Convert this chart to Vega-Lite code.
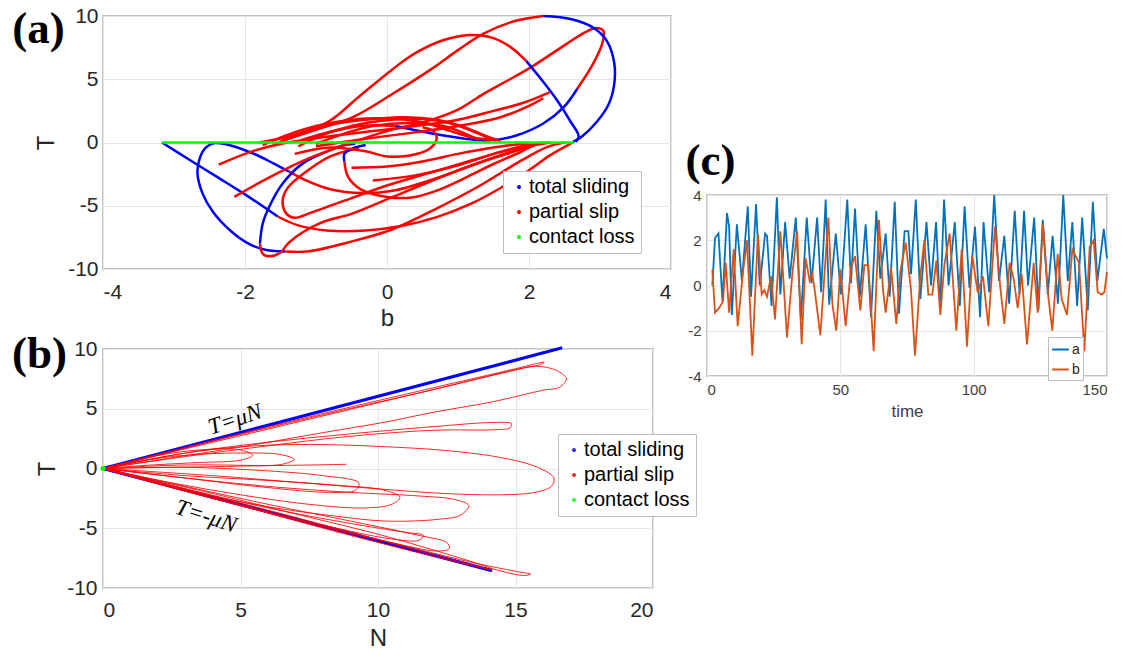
{
  "$schema": "https://vega.github.io/schema/vega-lite/v6.json",
  "autosize": {"type": "pad"},
  "padding": {"left": 10, "top": 4, "right": 0, "bottom": 0},
  "background": "white",
  "config": {
    "font": "Liberation Sans",
    "locale": {"number": {"decimal": ".", "thousands": ",", "grouping": [3], "currency": ["$", ""], "minus": "-"}},
    "view": {"stroke": "#c4c4c4", "strokeWidth": 2},
    "axis": {"grid": true, "gridColor": "#e6e6e6", "gridWidth": 1, "domain": false, "ticks": false, "format": "d", "labelFont": "Liberation Sans", "titleFont": "Liberation Sans", "labelColor": "#262626", "titleColor": "#262626", "titleFontWeight": "normal"}
  },
  "datasets": {
    "panelA": [
      {"seg": "a1", "state": "total sliding", "b": -3.17, "T": 0},
      {"seg": "a1", "state": "total sliding", "b": -2.8, "T": -1.3},
      {"seg": "a1", "state": "total sliding", "b": -2.4, "T": -2.7},
      {"seg": "a1", "state": "total sliding", "b": -2.0, "T": -4.1},
      {"seg": "a1", "state": "total sliding", "b": -1.54, "T": -5.85},
      {"seg": "a2", "state": "partial slip", "b": -1.54, "T": -5.85},
      {"seg": "a2", "state": "partial slip", "b": -1.25, "T": -6.55},
      {"seg": "a2", "state": "partial slip", "b": -0.85, "T": -6.95},
      {"seg": "a2", "state": "partial slip", "b": -0.3, "T": -6.95},
      {"seg": "a2", "state": "partial slip", "b": 0.2, "T": -6.6},
      {"seg": "a2", "state": "partial slip", "b": 0.7, "T": -5.9},
      {"seg": "a2", "state": "partial slip", "b": 1.2, "T": -4.8},
      {"seg": "a2", "state": "partial slip", "b": 1.6, "T": -3.6},
      {"seg": "a2", "state": "partial slip", "b": 2.0, "T": -2.2},
      {"seg": "a2", "state": "partial slip", "b": 2.3, "T": -1.0},
      {"seg": "a2", "state": "partial slip", "b": 2.55, "T": -0.2},
      {"seg": "a2", "state": "partial slip", "b": 2.62, "T": 0},
      {"seg": "a3", "state": "total sliding", "b": -1.38, "T": -2.3},
      {"seg": "a3", "state": "total sliding", "b": -1.6, "T": -1.65},
      {"seg": "a3", "state": "total sliding", "b": -1.85, "T": -0.95},
      {"seg": "a3", "state": "total sliding", "b": -2.13, "T": -0.35},
      {"seg": "a3", "state": "total sliding", "b": -2.42, "T": -0.05},
      {"seg": "a3", "state": "total sliding", "b": -2.56, "T": -0.45},
      {"seg": "a3", "state": "total sliding", "b": -2.64, "T": -1.3},
      {"seg": "a3", "state": "total sliding", "b": -2.67, "T": -2.4},
      {"seg": "a3", "state": "total sliding", "b": -2.6, "T": -4.0},
      {"seg": "a3", "state": "total sliding", "b": -2.45, "T": -5.5},
      {"seg": "a3", "state": "total sliding", "b": -2.2, "T": -7.0},
      {"seg": "a3", "state": "total sliding", "b": -1.95, "T": -8.0},
      {"seg": "a3", "state": "total sliding", "b": -1.7, "T": -8.5},
      {"seg": "a3", "state": "total sliding", "b": -1.43, "T": -8.62},
      {"seg": "a4", "state": "partial slip", "b": -1.38, "T": -2.3},
      {"seg": "a4", "state": "partial slip", "b": -1.1, "T": -3.1},
      {"seg": "a4", "state": "partial slip", "b": -0.8, "T": -3.7},
      {"seg": "a4", "state": "partial slip", "b": -0.35, "T": -4.0},
      {"seg": "a4", "state": "partial slip", "b": 0.1, "T": -3.8},
      {"seg": "a4", "state": "partial slip", "b": 0.6, "T": -3.0},
      {"seg": "a4", "state": "partial slip", "b": 1.1, "T": -2.0},
      {"seg": "a4", "state": "partial slip", "b": 1.6, "T": -1.0},
      {"seg": "a4", "state": "partial slip", "b": 2.0, "T": -0.3},
      {"seg": "a4", "state": "partial slip", "b": 2.3, "T": 0},
      {"seg": "a5", "state": "partial slip", "b": -1.43, "T": -8.62},
      {"seg": "a5", "state": "partial slip", "b": -1.1, "T": -8.6},
      {"seg": "a5", "state": "partial slip", "b": -0.55, "T": -7.9},
      {"seg": "a5", "state": "partial slip", "b": 0.06, "T": -6.9},
      {"seg": "a5", "state": "partial slip", "b": 0.67, "T": -5.3},
      {"seg": "a5", "state": "partial slip", "b": 1.28, "T": -3.5},
      {"seg": "a5", "state": "partial slip", "b": 1.9, "T": -1.4},
      {"seg": "a5", "state": "partial slip", "b": 2.26, "T": -0.35},
      {"seg": "a5", "state": "partial slip", "b": 2.5, "T": 0},
      {"seg": "a6", "state": "total sliding", "b": -0.45, "T": -0.1},
      {"seg": "a6", "state": "total sliding", "b": -0.62, "T": -0.24},
      {"seg": "a6", "state": "total sliding", "b": -0.81, "T": -0.63},
      {"seg": "a6", "state": "total sliding", "b": -1.19, "T": -1.67},
      {"seg": "a6", "state": "total sliding", "b": -1.47, "T": -3.25},
      {"seg": "a6", "state": "total sliding", "b": -1.66, "T": -5.1},
      {"seg": "a6", "state": "total sliding", "b": -1.75, "T": -6.4},
      {"seg": "a6", "state": "total sliding", "b": -1.79, "T": -8.0},
      {"seg": "a7", "state": "partial slip", "b": -1.79, "T": -8.0},
      {"seg": "a7", "state": "partial slip", "b": -1.75, "T": -8.8},
      {"seg": "a7", "state": "partial slip", "b": -1.65, "T": -9.0},
      {"seg": "a7", "state": "partial slip", "b": -1.5, "T": -8.7},
      {"seg": "a7", "state": "partial slip", "b": -1.38, "T": -7.9},
      {"seg": "a7", "state": "partial slip", "b": -0.95, "T": -6.4},
      {"seg": "a7", "state": "partial slip", "b": -0.48, "T": -5.6},
      {"seg": "a7", "state": "partial slip", "b": 0.08, "T": -4.3},
      {"seg": "a7", "state": "partial slip", "b": 0.6, "T": -3.1},
      {"seg": "a7", "state": "partial slip", "b": 1.2, "T": -1.8},
      {"seg": "a7", "state": "partial slip", "b": 1.8, "T": -0.7},
      {"seg": "a7", "state": "partial slip", "b": 2.2, "T": 0},
      {"seg": "a8", "state": "partial slip", "b": -0.4, "T": -0.45},
      {"seg": "a8", "state": "partial slip", "b": -0.8, "T": -1.1},
      {"seg": "a8", "state": "partial slip", "b": -1.16, "T": -2.4},
      {"seg": "a8", "state": "partial slip", "b": -1.4, "T": -3.6},
      {"seg": "a8", "state": "partial slip", "b": -1.47, "T": -4.6},
      {"seg": "a8", "state": "partial slip", "b": -1.42, "T": -5.6},
      {"seg": "a8", "state": "partial slip", "b": -1.3, "T": -5.95},
      {"seg": "a8", "state": "partial slip", "b": -1.05, "T": -5.5},
      {"seg": "a8", "state": "partial slip", "b": -0.6, "T": -4.6},
      {"seg": "a8", "state": "partial slip", "b": 0.0, "T": -3.4},
      {"seg": "a8", "state": "partial slip", "b": 0.6, "T": -2.4},
      {"seg": "a8", "state": "partial slip", "b": 1.2, "T": -1.4},
      {"seg": "a8", "state": "partial slip", "b": 1.7, "T": -0.6},
      {"seg": "a8", "state": "partial slip", "b": 2.0, "T": -0.2},
      {"seg": "a9", "state": "total sliding", "b": -0.3, "T": -0.2},
      {"seg": "a9", "state": "total sliding", "b": -0.5, "T": -0.5},
      {"seg": "a9", "state": "total sliding", "b": -0.6, "T": -0.9},
      {"seg": "a9", "state": "total sliding", "b": -0.6, "T": -1.5},
      {"seg": "a10", "state": "partial slip", "b": -0.6, "T": -1.5},
      {"seg": "a10", "state": "partial slip", "b": -0.55, "T": -2.7},
      {"seg": "a10", "state": "partial slip", "b": -0.37, "T": -3.7},
      {"seg": "a10", "state": "partial slip", "b": 0.0, "T": -4.3},
      {"seg": "a10", "state": "partial slip", "b": 0.35, "T": -4.35},
      {"seg": "a10", "state": "partial slip", "b": 0.7, "T": -3.8},
      {"seg": "a10", "state": "partial slip", "b": 1.1, "T": -2.8},
      {"seg": "a10", "state": "partial slip", "b": 1.5, "T": -1.7},
      {"seg": "a10", "state": "partial slip", "b": 1.9, "T": -0.7},
      {"seg": "a10", "state": "partial slip", "b": 2.1, "T": -0.1},
      {"seg": "a11", "state": "partial slip", "b": -2.15, "T": -4.3},
      {"seg": "a11", "state": "partial slip", "b": -1.77, "T": -3.1},
      {"seg": "a11", "state": "partial slip", "b": -1.16, "T": -1.4},
      {"seg": "a11", "state": "partial slip", "b": -0.55, "T": -0.1},
      {"seg": "a11", "state": "partial slip", "b": 0.06, "T": 1.0},
      {"seg": "a11", "state": "partial slip", "b": 0.6, "T": 1.75},
      {"seg": "a11", "state": "partial slip", "b": 1.0, "T": 2.6},
      {"seg": "a11", "state": "partial slip", "b": 1.36, "T": 3.85},
      {"seg": "a11", "state": "partial slip", "b": 1.7, "T": 4.9},
      {"seg": "a11", "state": "partial slip", "b": 2.06, "T": 6.06},
      {"seg": "a11", "state": "partial slip", "b": 2.53, "T": 7.8},
      {"seg": "a11", "state": "partial slip", "b": 2.8, "T": 8.75},
      {"seg": "a11", "state": "partial slip", "b": 2.95, "T": 9.05},
      {"seg": "a11", "state": "partial slip", "b": 3.05, "T": 8.8},
      {"seg": "a11", "state": "partial slip", "b": 3.03, "T": 7.8},
      {"seg": "a11", "state": "partial slip", "b": 2.9, "T": 6.2},
      {"seg": "a11", "state": "partial slip", "b": 2.68, "T": 4.25},
      {"seg": "a12", "state": "total sliding", "b": 2.68, "T": 4.25},
      {"seg": "a12", "state": "total sliding", "b": 2.49, "T": 2.8},
      {"seg": "a12", "state": "total sliding", "b": 2.2, "T": 1.5},
      {"seg": "a12", "state": "total sliding", "b": 1.82, "T": 0.55},
      {"seg": "a12", "state": "total sliding", "b": 1.45, "T": 0.15},
      {"seg": "a12", "state": "total sliding", "b": 1.1, "T": 0.3},
      {"seg": "a12", "state": "total sliding", "b": 0.6, "T": 0.75},
      {"seg": "a12", "state": "total sliding", "b": 0.12, "T": 1.3},
      {"seg": "a13", "state": "partial slip", "b": 0.12, "T": 1.3},
      {"seg": "a13", "state": "partial slip", "b": -0.3, "T": 1.35},
      {"seg": "a13", "state": "partial slip", "b": -0.8, "T": 0.85},
      {"seg": "a13", "state": "partial slip", "b": -1.2, "T": 0.2},
      {"seg": "a14", "state": "partial slip", "b": -1.8, "T": 0},
      {"seg": "a14", "state": "partial slip", "b": -1.3, "T": 0.6},
      {"seg": "a14", "state": "partial slip", "b": -0.81, "T": 1.7},
      {"seg": "a14", "state": "partial slip", "b": -0.4, "T": 3.6},
      {"seg": "a14", "state": "partial slip", "b": 0.08, "T": 5.8},
      {"seg": "a14", "state": "partial slip", "b": 0.41, "T": 7.1},
      {"seg": "a14", "state": "partial slip", "b": 0.8, "T": 8.1},
      {"seg": "a14", "state": "partial slip", "b": 1.17, "T": 8.5},
      {"seg": "a14", "state": "partial slip", "b": 1.5, "T": 8.25},
      {"seg": "a14", "state": "partial slip", "b": 1.75, "T": 7.5},
      {"seg": "a14", "state": "partial slip", "b": 1.96, "T": 6.45},
      {"seg": "a15", "state": "total sliding", "b": 1.96, "T": 6.45},
      {"seg": "a15", "state": "total sliding", "b": 2.2, "T": 4.8},
      {"seg": "a15", "state": "total sliding", "b": 2.4, "T": 3.3},
      {"seg": "a15", "state": "total sliding", "b": 2.58, "T": 1.7},
      {"seg": "a15", "state": "total sliding", "b": 2.7, "T": 0.5},
      {"seg": "a15", "state": "total sliding", "b": 2.66, "T": 0.05},
      {"seg": "a16", "state": "partial slip", "b": -1.5, "T": 0.1},
      {"seg": "a16", "state": "partial slip", "b": -1.0, "T": 1.0},
      {"seg": "a16", "state": "partial slip", "b": -0.48, "T": 2.0},
      {"seg": "a16", "state": "partial slip", "b": 0.08, "T": 3.85},
      {"seg": "a16", "state": "partial slip", "b": 0.65, "T": 5.9},
      {"seg": "a16", "state": "partial slip", "b": 1.0, "T": 7.3},
      {"seg": "a16", "state": "partial slip", "b": 1.36, "T": 8.6},
      {"seg": "a16", "state": "partial slip", "b": 1.8, "T": 9.6},
      {"seg": "a16", "state": "partial slip", "b": 2.2, "T": 10.0},
      {"seg": "a17", "state": "total sliding", "b": 2.2, "T": 10.0},
      {"seg": "a17", "state": "total sliding", "b": 2.6, "T": 9.75},
      {"seg": "a17", "state": "total sliding", "b": 2.9, "T": 9.1},
      {"seg": "a17", "state": "total sliding", "b": 3.1, "T": 8.0},
      {"seg": "a17", "state": "total sliding", "b": 3.2, "T": 6.3},
      {"seg": "a17", "state": "total sliding", "b": 3.2, "T": 4.6},
      {"seg": "a17", "state": "total sliding", "b": 3.12, "T": 3.0},
      {"seg": "a17", "state": "total sliding", "b": 2.95, "T": 1.6},
      {"seg": "a17", "state": "total sliding", "b": 2.75, "T": 0.5},
      {"seg": "a17", "state": "total sliding", "b": 2.62, "T": 0.05},
      {"seg": "a18", "state": "partial slip", "b": -2.37, "T": -1.75},
      {"seg": "a18", "state": "partial slip", "b": -1.9, "T": -0.7},
      {"seg": "a18", "state": "partial slip", "b": -1.4, "T": 0.0},
      {"seg": "a18", "state": "partial slip", "b": -0.8, "T": 0.5},
      {"seg": "a18", "state": "partial slip", "b": -0.2, "T": 0.9},
      {"seg": "a18", "state": "partial slip", "b": 0.4, "T": 1.3},
      {"seg": "a18", "state": "partial slip", "b": 1.0, "T": 1.8},
      {"seg": "a18", "state": "partial slip", "b": 1.5, "T": 2.5},
      {"seg": "a18", "state": "partial slip", "b": 1.9, "T": 3.1},
      {"seg": "a18", "state": "partial slip", "b": 2.29, "T": 3.97},
      {"seg": "a19", "state": "partial slip", "b": -1.0, "T": -0.3},
      {"seg": "a19", "state": "partial slip", "b": -0.3, "T": 0.3},
      {"seg": "a19", "state": "partial slip", "b": 0.4, "T": 0.8},
      {"seg": "a19", "state": "partial slip", "b": 1.0, "T": 1.3},
      {"seg": "a19", "state": "partial slip", "b": 1.6, "T": 2.0},
      {"seg": "a19", "state": "partial slip", "b": 2.0, "T": 2.9},
      {"seg": "a19", "state": "partial slip", "b": 2.2, "T": 3.5},
      {"seg": "a20", "state": "partial slip", "b": -1.6, "T": -0.2},
      {"seg": "a20", "state": "partial slip", "b": -1.2, "T": 0.7},
      {"seg": "a20", "state": "partial slip", "b": -0.8, "T": 1.4},
      {"seg": "a20", "state": "partial slip", "b": -0.3, "T": 1.8},
      {"seg": "a20", "state": "partial slip", "b": 0.2, "T": 2.0},
      {"seg": "a20", "state": "partial slip", "b": 0.7, "T": 1.8},
      {"seg": "a20", "state": "partial slip", "b": 1.1, "T": 1.2},
      {"seg": "a20", "state": "partial slip", "b": 1.4, "T": 0.5},
      {"seg": "a20", "state": "partial slip", "b": 1.6, "T": 0.1},
      {"seg": "a21", "state": "partial slip", "b": -1.25, "T": -0.3},
      {"seg": "a21", "state": "partial slip", "b": -0.9, "T": 0.6},
      {"seg": "a21", "state": "partial slip", "b": -0.5, "T": 1.3},
      {"seg": "a21", "state": "partial slip", "b": 0.0, "T": 1.75},
      {"seg": "a21", "state": "partial slip", "b": 0.5, "T": 1.85},
      {"seg": "a21", "state": "partial slip", "b": 0.9, "T": 1.5},
      {"seg": "a21", "state": "partial slip", "b": 1.2, "T": 0.9},
      {"seg": "a21", "state": "partial slip", "b": 1.45, "T": 0.3},
      {"seg": "a22", "state": "partial slip", "b": -1.0, "T": -0.1},
      {"seg": "a22", "state": "partial slip", "b": -0.6, "T": 0.7},
      {"seg": "a22", "state": "partial slip", "b": -0.2, "T": 1.3},
      {"seg": "a22", "state": "partial slip", "b": 0.3, "T": 1.55},
      {"seg": "a22", "state": "partial slip", "b": 0.8, "T": 1.3},
      {"seg": "a22", "state": "partial slip", "b": 1.1, "T": 0.7},
      {"seg": "a22", "state": "partial slip", "b": 1.3, "T": 0.2},
      {"seg": "a23", "state": "partial slip", "b": -1.75, "T": -0.2},
      {"seg": "a23", "state": "partial slip", "b": -1.4, "T": 0.6},
      {"seg": "a23", "state": "partial slip", "b": -1.0, "T": 1.3},
      {"seg": "a23", "state": "partial slip", "b": -0.5, "T": 1.8},
      {"seg": "a23", "state": "partial slip", "b": 0.0, "T": 1.9},
      {"seg": "a23", "state": "partial slip", "b": 0.5, "T": 1.6},
      {"seg": "a23", "state": "partial slip", "b": 0.9, "T": 0.9},
      {"seg": "a23", "state": "partial slip", "b": 1.2, "T": 0.4},
      {"seg": "a23", "state": "partial slip", "b": 1.5, "T": 0.2},
      {"seg": "a24", "state": "partial slip", "b": -1.3, "T": -0.9},
      {"seg": "a24", "state": "partial slip", "b": -0.8, "T": -0.4},
      {"seg": "a24", "state": "partial slip", "b": -0.3, "T": -0.7},
      {"seg": "a24", "state": "partial slip", "b": 0.0, "T": -1.1},
      {"seg": "a24", "state": "partial slip", "b": 0.3, "T": -1.05},
      {"seg": "a24", "state": "partial slip", "b": 0.6, "T": -0.5},
      {"seg": "a24", "state": "partial slip", "b": 0.7, "T": 0.3},
      {"seg": "a24", "state": "partial slip", "b": 0.65, "T": 0.9},
      {"seg": "a24", "state": "partial slip", "b": 0.5, "T": 1.2},
      {"seg": "a25", "state": "partial slip", "b": -0.5, "T": -2.0},
      {"seg": "a25", "state": "partial slip", "b": 0.0, "T": -1.9},
      {"seg": "a25", "state": "partial slip", "b": 0.5, "T": -1.5},
      {"seg": "a25", "state": "partial slip", "b": 1.0, "T": -0.9},
      {"seg": "a25", "state": "partial slip", "b": 1.5, "T": -0.4},
      {"seg": "a25", "state": "partial slip", "b": 2.0, "T": -0.05},
      {"seg": "a26", "state": "partial slip", "b": -0.2, "T": -3.0},
      {"seg": "a26", "state": "partial slip", "b": 0.4, "T": -2.6},
      {"seg": "a26", "state": "partial slip", "b": 1.0, "T": -1.8},
      {"seg": "a26", "state": "partial slip", "b": 1.5, "T": -0.9},
      {"seg": "a26", "state": "partial slip", "b": 2.0, "T": -0.2},
      {"seg": "a26", "state": "partial slip", "b": 2.3, "T": 0},
      {"seg": "a27", "state": "contact loss", "b": -3.17, "T": 0},
      {"seg": "a27", "state": "contact loss", "b": 2.63, "T": 0}
    ],
    "panelB": [
      {"seg": "bu", "state": "total sliding", "N": 0, "T": 0},
      {"seg": "bu", "state": "total sliding", "N": 16.7, "T": 10.1},
      {"seg": "bd", "state": "total sliding", "N": 0, "T": 0},
      {"seg": "bd", "state": "total sliding", "N": 14.15, "T": -8.55},
      {"seg": "r1", "state": "partial slip", "N": 0, "T": 0},
      {"seg": "r1", "state": "partial slip", "N": 4, "T": 2.35},
      {"seg": "r1", "state": "partial slip", "N": 8, "T": 4.6},
      {"seg": "r1", "state": "partial slip", "N": 12, "T": 6.75},
      {"seg": "r1", "state": "partial slip", "N": 15, "T": 8.35},
      {"seg": "r1", "state": "partial slip", "N": 15.8, "T": 8.8},
      {"seg": "r1", "state": "partial slip", "N": 16.05, "T": 8.9},
      {"seg": "r1", "state": "partial slip", "N": 15.9, "T": 8.7},
      {"seg": "r1", "state": "partial slip", "N": 15.2, "T": 8.35},
      {"seg": "r1", "state": "partial slip", "N": 12, "T": 6.6},
      {"seg": "r1", "state": "partial slip", "N": 8, "T": 4.4},
      {"seg": "r1", "state": "partial slip", "N": 4, "T": 2.2},
      {"seg": "r1", "state": "partial slip", "N": 0, "T": 0},
      {"seg": "r2", "state": "partial slip", "N": 0, "T": 0},
      {"seg": "r2", "state": "partial slip", "N": 4, "T": 2.3},
      {"seg": "r2", "state": "partial slip", "N": 8, "T": 4.5},
      {"seg": "r2", "state": "partial slip", "N": 12, "T": 6.6},
      {"seg": "r2", "state": "partial slip", "N": 14.5, "T": 8.0},
      {"seg": "r2", "state": "partial slip", "N": 15.75, "T": 8.55},
      {"seg": "r2", "state": "partial slip", "N": 16.5, "T": 8.2},
      {"seg": "r2", "state": "partial slip", "N": 16.85, "T": 7.5},
      {"seg": "r2", "state": "partial slip", "N": 16.6, "T": 6.8},
      {"seg": "r2", "state": "partial slip", "N": 16.0, "T": 6.55},
      {"seg": "r2", "state": "partial slip", "N": 14.2, "T": 5.6},
      {"seg": "r2", "state": "partial slip", "N": 12, "T": 4.7},
      {"seg": "r2", "state": "partial slip", "N": 10.3, "T": 3.9},
      {"seg": "r2", "state": "partial slip", "N": 8, "T": 3.0},
      {"seg": "r2", "state": "partial slip", "N": 5, "T": 1.8},
      {"seg": "r2", "state": "partial slip", "N": 2.5, "T": 0.9},
      {"seg": "r2", "state": "partial slip", "N": 0, "T": 0},
      {"seg": "r3", "state": "partial slip", "N": 0, "T": 0},
      {"seg": "r3", "state": "partial slip", "N": 3, "T": 1.3},
      {"seg": "r3", "state": "partial slip", "N": 6, "T": 2.2},
      {"seg": "r3", "state": "partial slip", "N": 9, "T": 2.9},
      {"seg": "r3", "state": "partial slip", "N": 12, "T": 3.5},
      {"seg": "r3", "state": "partial slip", "N": 14.2, "T": 3.85},
      {"seg": "r3", "state": "partial slip", "N": 14.85, "T": 3.75},
      {"seg": "r3", "state": "partial slip", "N": 14.8, "T": 3.4},
      {"seg": "r3", "state": "partial slip", "N": 14.3, "T": 3.25},
      {"seg": "r3", "state": "partial slip", "N": 12, "T": 3.2},
      {"seg": "r3", "state": "partial slip", "N": 9, "T": 2.7},
      {"seg": "r3", "state": "partial slip", "N": 6, "T": 1.9},
      {"seg": "r3", "state": "partial slip", "N": 3, "T": 1.0},
      {"seg": "r3", "state": "partial slip", "N": 0, "T": 0},
      {"seg": "r4", "state": "partial slip", "N": 0, "T": 0},
      {"seg": "r4", "state": "partial slip", "N": 2, "T": 0.9},
      {"seg": "r4", "state": "partial slip", "N": 4, "T": 1.6},
      {"seg": "r4", "state": "partial slip", "N": 6, "T": 1.95},
      {"seg": "r4", "state": "partial slip", "N": 8, "T": 2.0},
      {"seg": "r4", "state": "partial slip", "N": 10, "T": 1.85},
      {"seg": "r4", "state": "partial slip", "N": 12.5, "T": 1.5},
      {"seg": "r4", "state": "partial slip", "N": 14.5, "T": 0.9},
      {"seg": "r4", "state": "partial slip", "N": 15.8, "T": 0.1},
      {"seg": "r4", "state": "partial slip", "N": 16.4, "T": -0.8},
      {"seg": "r4", "state": "partial slip", "N": 16.3, "T": -1.5},
      {"seg": "r4", "state": "partial slip", "N": 15.7, "T": -2.0},
      {"seg": "r4", "state": "partial slip", "N": 14.5, "T": -2.2},
      {"seg": "r4", "state": "partial slip", "N": 12.5, "T": -2.1},
      {"seg": "r4", "state": "partial slip", "N": 10, "T": -1.7},
      {"seg": "r4", "state": "partial slip", "N": 7, "T": -1.15},
      {"seg": "r4", "state": "partial slip", "N": 4, "T": -0.6},
      {"seg": "r4", "state": "partial slip", "N": 0, "T": 0},
      {"seg": "r5", "state": "partial slip", "N": 0, "T": 0},
      {"seg": "r5", "state": "partial slip", "N": 3, "T": -0.8},
      {"seg": "r5", "state": "partial slip", "N": 6, "T": -1.5},
      {"seg": "r5", "state": "partial slip", "N": 9, "T": -2.0},
      {"seg": "r5", "state": "partial slip", "N": 11.5, "T": -2.3},
      {"seg": "r5", "state": "partial slip", "N": 12.8, "T": -2.6},
      {"seg": "r5", "state": "partial slip", "N": 13.3, "T": -3.1},
      {"seg": "r5", "state": "partial slip", "N": 13.0, "T": -3.9},
      {"seg": "r5", "state": "partial slip", "N": 12.2, "T": -4.25},
      {"seg": "r5", "state": "partial slip", "N": 10.3, "T": -4.4},
      {"seg": "r5", "state": "partial slip", "N": 8.5, "T": -4.0},
      {"seg": "r5", "state": "partial slip", "N": 6, "T": -3.2},
      {"seg": "r5", "state": "partial slip", "N": 3, "T": -1.8},
      {"seg": "r5", "state": "partial slip", "N": 0, "T": 0},
      {"seg": "r6", "state": "partial slip", "N": 0, "T": 0},
      {"seg": "r6", "state": "partial slip", "N": 3, "T": -0.6},
      {"seg": "r6", "state": "partial slip", "N": 6, "T": -1.0},
      {"seg": "r6", "state": "partial slip", "N": 8.5, "T": -1.4},
      {"seg": "r6", "state": "partial slip", "N": 10.2, "T": -1.8},
      {"seg": "r6", "state": "partial slip", "N": 10.8, "T": -2.4},
      {"seg": "r6", "state": "partial slip", "N": 10.5, "T": -3.0},
      {"seg": "r6", "state": "partial slip", "N": 9.5, "T": -3.3},
      {"seg": "r6", "state": "partial slip", "N": 7.5, "T": -3.0},
      {"seg": "r6", "state": "partial slip", "N": 5, "T": -2.2},
      {"seg": "r6", "state": "partial slip", "N": 2.5, "T": -1.2},
      {"seg": "r6", "state": "partial slip", "N": 0, "T": 0},
      {"seg": "r7", "state": "partial slip", "N": 0, "T": 0},
      {"seg": "r7", "state": "partial slip", "N": 3, "T": 0.1},
      {"seg": "r7", "state": "partial slip", "N": 6, "T": -0.2},
      {"seg": "r7", "state": "partial slip", "N": 8, "T": -0.6},
      {"seg": "r7", "state": "partial slip", "N": 9.3, "T": -1.2},
      {"seg": "r7", "state": "partial slip", "N": 9.2, "T": -1.8},
      {"seg": "r7", "state": "partial slip", "N": 8.3, "T": -2.0},
      {"seg": "r7", "state": "partial slip", "N": 6, "T": -1.6},
      {"seg": "r7", "state": "partial slip", "N": 3, "T": -0.8},
      {"seg": "r7", "state": "partial slip", "N": 0, "T": 0},
      {"seg": "r8", "state": "partial slip", "N": 0, "T": 0},
      {"seg": "r8", "state": "partial slip", "N": 2, "T": 1.1},
      {"seg": "r8", "state": "partial slip", "N": 3.8, "T": 1.6},
      {"seg": "r8", "state": "partial slip", "N": 5, "T": 1.55},
      {"seg": "r8", "state": "partial slip", "N": 5.45, "T": 1.1},
      {"seg": "r8", "state": "partial slip", "N": 5.0, "T": 0.7},
      {"seg": "r8", "state": "partial slip", "N": 3.5, "T": 0.5},
      {"seg": "r8", "state": "partial slip", "N": 1.8, "T": 0.3},
      {"seg": "r8", "state": "partial slip", "N": 0, "T": 0},
      {"seg": "r9", "state": "partial slip", "N": 0, "T": 0},
      {"seg": "r9", "state": "partial slip", "N": 2.5, "T": 1.0},
      {"seg": "r9", "state": "partial slip", "N": 5, "T": 1.3},
      {"seg": "r9", "state": "partial slip", "N": 6.5, "T": 1.15},
      {"seg": "r9", "state": "partial slip", "N": 6.95, "T": 0.75},
      {"seg": "r9", "state": "partial slip", "N": 6.5, "T": 0.35},
      {"seg": "r9", "state": "partial slip", "N": 5, "T": 0.2},
      {"seg": "r9", "state": "partial slip", "N": 2.5, "T": 0.1},
      {"seg": "r9", "state": "partial slip", "N": 0, "T": 0},
      {"seg": "r10", "state": "partial slip", "N": 0, "T": 0},
      {"seg": "r10", "state": "partial slip", "N": 3, "T": 0.3},
      {"seg": "r10", "state": "partial slip", "N": 6, "T": 0.25},
      {"seg": "r10", "state": "partial slip", "N": 8.85, "T": 0.35},
      {"seg": "r11", "state": "partial slip", "N": 0, "T": 0},
      {"seg": "r11", "state": "partial slip", "N": 3, "T": -1.5},
      {"seg": "r11", "state": "partial slip", "N": 6, "T": -3.0},
      {"seg": "r11", "state": "partial slip", "N": 9, "T": -4.4},
      {"seg": "r11", "state": "partial slip", "N": 11.5, "T": -5.6},
      {"seg": "r11", "state": "partial slip", "N": 12.5, "T": -6.2},
      {"seg": "r11", "state": "partial slip", "N": 12.6, "T": -6.7},
      {"seg": "r11", "state": "partial slip", "N": 12.1, "T": -6.9},
      {"seg": "r11", "state": "partial slip", "N": 10.5, "T": -6.2},
      {"seg": "r11", "state": "partial slip", "N": 8, "T": -4.9},
      {"seg": "r11", "state": "partial slip", "N": 5, "T": -3.1},
      {"seg": "r11", "state": "partial slip", "N": 2.5, "T": -1.6},
      {"seg": "r11", "state": "partial slip", "N": 0, "T": 0},
      {"seg": "r12", "state": "partial slip", "N": 0, "T": 0},
      {"seg": "r12", "state": "partial slip", "N": 3, "T": -1.7},
      {"seg": "r12", "state": "partial slip", "N": 6, "T": -3.3},
      {"seg": "r12", "state": "partial slip", "N": 9, "T": -4.6},
      {"seg": "r12", "state": "partial slip", "N": 11, "T": -5.35},
      {"seg": "r12", "state": "partial slip", "N": 11.65, "T": -5.6},
      {"seg": "r12", "state": "partial slip", "N": 11.5, "T": -6.0},
      {"seg": "r12", "state": "partial slip", "N": 10.5, "T": -5.9},
      {"seg": "r12", "state": "partial slip", "N": 8.5, "T": -5.0},
      {"seg": "r12", "state": "partial slip", "N": 6, "T": -3.7},
      {"seg": "r12", "state": "partial slip", "N": 3, "T": -1.9},
      {"seg": "r12", "state": "partial slip", "N": 0, "T": 0},
      {"seg": "r13", "state": "partial slip", "N": 0, "T": 0},
      {"seg": "r13", "state": "partial slip", "N": 4, "T": -2.4},
      {"seg": "r13", "state": "partial slip", "N": 8, "T": -4.8},
      {"seg": "r13", "state": "partial slip", "N": 11, "T": -6.5},
      {"seg": "r13", "state": "partial slip", "N": 13.5, "T": -7.9},
      {"seg": "r13", "state": "partial slip", "N": 15.0, "T": -8.6},
      {"seg": "r13", "state": "partial slip", "N": 15.55, "T": -8.85},
      {"seg": "r13", "state": "partial slip", "N": 15.3, "T": -8.95},
      {"seg": "r13", "state": "partial slip", "N": 14.5, "T": -8.6},
      {"seg": "r13", "state": "partial slip", "N": 13, "T": -7.5},
      {"seg": "r13", "state": "partial slip", "N": 10, "T": -5.5},
      {"seg": "r13", "state": "partial slip", "N": 7, "T": -3.8},
      {"seg": "r13", "state": "partial slip", "N": 4, "T": -2.1},
      {"seg": "r13", "state": "partial slip", "N": 0, "T": 0},
      {"seg": "r14", "state": "partial slip", "N": 0, "T": 0},
      {"seg": "r14", "state": "partial slip", "N": 4, "T": -2.3},
      {"seg": "r14", "state": "partial slip", "N": 8, "T": -4.7},
      {"seg": "r14", "state": "partial slip", "N": 12, "T": -7.2},
      {"seg": "r14", "state": "partial slip", "N": 14.15, "T": -8.5},
      {"seg": "r14", "state": "partial slip", "N": 13, "T": -7.9},
      {"seg": "r14", "state": "partial slip", "N": 9, "T": -5.6},
      {"seg": "r14", "state": "partial slip", "N": 5, "T": -3.1},
      {"seg": "r14", "state": "partial slip", "N": 0, "T": 0},
      {"seg": "g", "state": "contact loss", "N": 0, "T": 0}
    ],
    "panelC": [
      {"series": "a", "time": 2, "value": 0.0}, {"series": "a", "time": 3, "value": 2.1}, {"series": "a", "time": 4.3, "value": 2.3}, {"series": "a", "time": 5.8, "value": -0.7},
      {"series": "a", "time": 7.5, "value": 3.2}, {"series": "a", "time": 8.3, "value": 2.6}, {"series": "a", "time": 9.3, "value": -1.3}, {"series": "a", "time": 11.2, "value": 2.7},
      {"series": "a", "time": 13.1, "value": 0.2}, {"series": "a", "time": 15.3, "value": 3.5}, {"series": "a", "time": 16.5, "value": -0.5}, {"series": "a", "time": 18.4, "value": 3.6},
      {"series": "a", "time": 19.8, "value": 0.0}, {"series": "a", "time": 21.8, "value": 2.3}, {"series": "a", "time": 22.5, "value": 2.2}, {"series": "a", "time": 24.2, "value": -0.9},
      {"series": "a", "time": 26.2, "value": 3.9}, {"series": "a", "time": 27.5, "value": -0.4}, {"series": "a", "time": 29.3, "value": 2.8}, {"series": "a", "time": 31, "value": 0.3},
      {"series": "a", "time": 33.3, "value": 3.0}, {"series": "a", "time": 35.2, "value": -1.5}, {"series": "a", "time": 37.4, "value": 3.0}, {"series": "a", "time": 39.2, "value": 0.1},
      {"series": "a", "time": 41.3, "value": 3.0}, {"series": "a", "time": 42.8, "value": -0.3}, {"series": "a", "time": 44.5, "value": 3.8}, {"series": "a", "time": 45.8, "value": -0.85},
      {"series": "a", "time": 48.3, "value": 2.3}, {"series": "a", "time": 50.2, "value": -0.4}, {"series": "a", "time": 52.6, "value": 3.8}, {"series": "a", "time": 54, "value": 0.1},
      {"series": "a", "time": 55.5, "value": 3.4}, {"series": "a", "time": 57.3, "value": -0.5}, {"series": "a", "time": 59.5, "value": 2.7}, {"series": "a", "time": 61.5, "value": -1.4},
      {"series": "a", "time": 63.5, "value": 3.3}, {"series": "a", "time": 65, "value": 0.3}, {"series": "a", "time": 67, "value": 2.3}, {"series": "a", "time": 68.5, "value": -0.5},
      {"series": "a", "time": 70.4, "value": 3.7}, {"series": "a", "time": 72, "value": -1.25}, {"series": "a", "time": 74.1, "value": 2.4}, {"series": "a", "time": 75.5, "value": 2.4},
      {"series": "a", "time": 76.5, "value": 0.5}, {"series": "a", "time": 78.3, "value": 3.8}, {"series": "a", "time": 80, "value": -0.6}, {"series": "a", "time": 82.3, "value": 2.8},
      {"series": "a", "time": 84, "value": 0.0}, {"series": "a", "time": 85.9, "value": 2.8}, {"series": "a", "time": 87.4, "value": -1.1}, {"series": "a", "time": 88.9, "value": 3.8},
      {"series": "a", "time": 90.6, "value": 0.0}, {"series": "a", "time": 92.9, "value": 2.8}, {"series": "a", "time": 94.8, "value": -0.9}, {"series": "a", "time": 96.6, "value": 3.5},
      {"series": "a", "time": 98.4, "value": -0.1}, {"series": "a", "time": 100.5, "value": 2.6}, {"series": "a", "time": 102.4, "value": -1.4}, {"series": "a", "time": 103.7, "value": 2.8},
      {"series": "a", "time": 105.8, "value": -0.3}, {"series": "a", "time": 107.7, "value": 4.0}, {"series": "a", "time": 109.5, "value": 0.2}, {"series": "a", "time": 111.5, "value": 2.2},
      {"series": "a", "time": 113.3, "value": -0.8}, {"series": "a", "time": 115.4, "value": 3.3}, {"series": "a", "time": 117.2, "value": -0.4}, {"series": "a", "time": 118.9, "value": 3.3},
      {"series": "a", "time": 120.4, "value": 0.0}, {"series": "a", "time": 122.7, "value": 3.0}, {"series": "a", "time": 124.3, "value": -1.1}, {"series": "a", "time": 125.9, "value": 2.9},
      {"series": "a", "time": 127.8, "value": -0.4}, {"series": "a", "time": 129.6, "value": 2.2}, {"series": "a", "time": 131.6, "value": -0.8}, {"series": "a", "time": 133.6, "value": 4.0},
      {"series": "a", "time": 135.3, "value": 0.2}, {"series": "a", "time": 137, "value": 2.8}, {"series": "a", "time": 138.8, "value": -0.9}, {"series": "a", "time": 140.7, "value": 3.0},
      {"series": "a", "time": 142.8, "value": -1.1}, {"series": "a", "time": 144.7, "value": 3.7}, {"series": "a", "time": 146.4, "value": 0.2}, {"series": "a", "time": 148.8, "value": 2.5},
      {"series": "a", "time": 150, "value": 1.2},
      {"series": "b", "time": 2, "value": 0.7}, {"series": "b", "time": 3, "value": -1.2}, {"series": "b", "time": 4.5, "value": -1.0}, {"series": "b", "time": 6, "value": -0.7},
      {"series": "b", "time": 7, "value": 1.0}, {"series": "b", "time": 8.3, "value": -1.2}, {"series": "b", "time": 10, "value": 1.6}, {"series": "b", "time": 11.5, "value": -1.8},
      {"series": "b", "time": 13.5, "value": 0.6}, {"series": "b", "time": 15, "value": 2.0}, {"series": "b", "time": 17, "value": -3.1}, {"series": "b", "time": 19.1, "value": 2.3},
      {"series": "b", "time": 20.5, "value": -0.4}, {"series": "b", "time": 21.5, "value": -0.2}, {"series": "b", "time": 22.5, "value": -0.5}, {"series": "b", "time": 24, "value": 0.4},
      {"series": "b", "time": 25.5, "value": -1.5}, {"series": "b", "time": 27.5, "value": 2.4}, {"series": "b", "time": 30, "value": -2.3}, {"series": "b", "time": 32, "value": 0.5},
      {"series": "b", "time": 33.8, "value": 2.4}, {"series": "b", "time": 35.5, "value": -2.6}, {"series": "b", "time": 37, "value": 1.2}, {"series": "b", "time": 38.5, "value": 0.2},
      {"series": "b", "time": 39.5, "value": 0.5}, {"series": "b", "time": 40.5, "value": -0.3}, {"series": "b", "time": 42.5, "value": -2.2}, {"series": "b", "time": 45.5, "value": 3.0},
      {"series": "b", "time": 47, "value": -0.8}, {"series": "b", "time": 48.5, "value": -2.0}, {"series": "b", "time": 50, "value": 0.7}, {"series": "b", "time": 52, "value": -1.8},
      {"series": "b", "time": 54, "value": 0.8}, {"series": "b", "time": 55.5, "value": 1.3}, {"series": "b", "time": 57.5, "value": -1.1}, {"series": "b", "time": 59, "value": 0.9},
      {"series": "b", "time": 60.5, "value": 0.9}, {"series": "b", "time": 62.5, "value": -2.9}, {"series": "b", "time": 64.5, "value": 2.9}, {"series": "b", "time": 66, "value": -0.2},
      {"series": "b", "time": 67, "value": -1.2}, {"series": "b", "time": 69, "value": 0.8}, {"series": "b", "time": 71, "value": -1.7}, {"series": "b", "time": 72.5, "value": 0.6},
      {"series": "b", "time": 74.5, "value": 1.9}, {"series": "b", "time": 76.5, "value": -0.2}, {"series": "b", "time": 78, "value": -3.1}, {"series": "b", "time": 80, "value": 0.4},
      {"series": "b", "time": 81.5, "value": 2.0}, {"series": "b", "time": 83, "value": -0.4}, {"series": "b", "time": 84.5, "value": -0.4}, {"series": "b", "time": 86, "value": 1.1},
      {"series": "b", "time": 87.5, "value": -1.3}, {"series": "b", "time": 89, "value": 0.9}, {"series": "b", "time": 91, "value": 2.3}, {"series": "b", "time": 93.5, "value": -2.0},
      {"series": "b", "time": 95.5, "value": 1.6}, {"series": "b", "time": 97.5, "value": -2.7}, {"series": "b", "time": 99.5, "value": 1.3}, {"series": "b", "time": 101.5, "value": -0.3},
      {"series": "b", "time": 103.5, "value": 0.4}, {"series": "b", "time": 105.5, "value": -1.8}, {"series": "b", "time": 108, "value": 2.6}, {"series": "b", "time": 110, "value": -0.1},
      {"series": "b", "time": 111.5, "value": -1.7}, {"series": "b", "time": 113.5, "value": 1.0}, {"series": "b", "time": 115, "value": 0.3}, {"series": "b", "time": 116.5, "value": -1.0},
      {"series": "b", "time": 118, "value": 0.5}, {"series": "b", "time": 120, "value": -2.6}, {"series": "b", "time": 122.5, "value": 1.0}, {"series": "b", "time": 124, "value": -1.2},
      {"series": "b", "time": 126, "value": 2.7}, {"series": "b", "time": 128, "value": -0.5}, {"series": "b", "time": 129.5, "value": -2.0}, {"series": "b", "time": 131.5, "value": 1.4},
      {"series": "b", "time": 133, "value": -0.6}, {"series": "b", "time": 135, "value": -1.3}, {"series": "b", "time": 137, "value": 1.6}, {"series": "b", "time": 139.5, "value": 1.0},
      {"series": "b", "time": 141.5, "value": -2.9}, {"series": "b", "time": 143.5, "value": 1.7}, {"series": "b", "time": 145, "value": 2.0}, {"series": "b", "time": 146.5, "value": -0.3},
      {"series": "b", "time": 148, "value": -0.4}, {"series": "b", "time": 149, "value": -0.3}, {"series": "b", "time": 150, "value": 0.6}
    ]
  },
  "hconcat": [
    {
      "vconcat": [
        {
          "width": 568,
          "height": 253,
          "layer": [
            {
              "data": {"name": "panelA"},
              "mark": {"type": "line", "strokeWidth": 2.5, "interpolate": "catmull-rom"},
              "encoding": {
                "x": {"field": "b", "type": "quantitative", "scale": {"domain": [-4, 4], "nice": false, "zero": false}, "axis": {"values": [-4, -2, 0, 2, 4], "format": "d", "title": "b", "labelFontSize": 21, "titleFontSize": 24, "labelPadding": 12, "titlePadding": 4}},
                "y": {"field": "T", "type": "quantitative", "scale": {"domain": [-10, 10], "nice": false}, "axis": {"values": [-10, -5, 0, 5, 10], "format": "d", "title": "T", "labelFontSize": 21, "titleFontSize": 24, "labelPadding": 5, "titlePadding": 9}},
                "color": {"field": "state", "type": "nominal", "scale": {"domain": ["total sliding", "partial slip", "contact loss"], "range": ["#0000ff", "#ff0000", "#00ff00"]},
                  "legend": {"title": null, "orient": "none", "legendX": 400, "legendY": 155, "direction": "vertical", "symbolType": "circle", "symbolSize": 3, "symbolStrokeWidth": 2.2, "labelFontSize": 20, "labelFont": "Liberation Sans", "labelColor": "#000000", "rowPadding": 5, "padding": 6, "strokeColor": "#bdbdbd", "fillColor": "#ffffff", "labelOffset": 0, "symbolOffset": 0}},
                "detail": {"field": "seg", "type": "nominal"},
                "order": {"value": null}
              }
            },
            {
              "data": {"values": [{"label": "(a)"}]},
              "mark": {"type": "text", "font": "Liberation Serif", "fontSize": 45, "fontWeight": "bold", "color": "#000000", "align": "center", "baseline": "alphabetic"},
              "encoding": {"x": {"datum": -4.91, "type": "quantitative"}, "y": {"datum": 7.9, "type": "quantitative"}, "text": {"field": "label", "type": "nominal"}}
            }
          ]
        },
        {
          "width": 550,
          "height": 239,
          "layer": [
            {
              "data": {"name": "panelB"},
              "transform": [{"filter": "datum.state === 'total sliding'"}],
              "mark": {"type": "line", "strokeWidth": 3.2},
              "encoding": {
                "x": {"field": "N", "type": "quantitative", "scale": {"domain": [0, 20], "nice": false}, "axis": {"values": [0, 5, 10, 15, 20], "format": "d", "title": "N", "labelFontSize": 21, "titleFontSize": 24, "labelPadding": 11, "titlePadding": 6}},
                "y": {"field": "T", "type": "quantitative", "scale": {"domain": [-10, 10], "nice": false}, "axis": {"values": [-10, -5, 0, 5, 10], "format": "d", "title": "T", "labelFontSize": 21, "titleFontSize": 24, "labelPadding": 6, "titlePadding": 7}},
                "color": {"field": "state", "type": "nominal", "scale": {"domain": ["total sliding", "partial slip", "contact loss"], "range": ["#0000ff", "#ff0000", "#00ff00"]},
                  "legend": {"title": null, "orient": "none", "legendX": 455, "legendY": 85, "direction": "vertical", "symbolType": "circle", "symbolSize": 3, "symbolStrokeWidth": 2.2, "labelFontSize": 20, "labelFont": "Liberation Sans", "labelColor": "#000000", "rowPadding": 5, "padding": 6, "strokeColor": "#bdbdbd", "fillColor": "#ffffff", "labelOffset": 0, "symbolOffset": 0}},
                "detail": {"field": "seg", "type": "nominal"},
                "order": {"value": null}
              }
            },
            {
              "data": {"name": "panelB"},
              "transform": [{"filter": "datum.state === 'partial slip'"}],
              "mark": {"type": "line", "strokeWidth": 1, "opacity": 0.85, "interpolate": "catmull-rom"},
              "encoding": {
                "x": {"field": "N", "type": "quantitative"},
                "y": {"field": "T", "type": "quantitative"},
                "color": {"field": "state", "type": "nominal"},
                "detail": {"field": "seg", "type": "nominal"},
                "order": {"value": null}
              }
            },
            {
              "data": {"name": "panelB"},
              "transform": [{"filter": "datum.state === 'contact loss'"}],
              "mark": {"type": "point", "filled": true, "size": 25, "opacity": 1},
              "encoding": {
                "x": {"field": "N", "type": "quantitative"},
                "y": {"field": "T", "type": "quantitative"},
                "color": {"field": "state", "type": "nominal"}
              }
            },
            {
              "data": {"values": [{"label": "T=μN"}]},
              "mark": {"type": "text", "angle": 342, "font": "Liberation Serif", "fontStyle": "italic", "fontSize": 23, "color": "#000000"},
              "encoding": {"x": {"datum": 4.8, "type": "quantitative"}, "y": {"datum": 4.1, "type": "quantitative"}, "text": {"field": "label", "type": "nominal"}}
            },
            {
              "data": {"values": [{"label": "T=-μN"}]},
              "mark": {"type": "text", "angle": 18, "font": "Liberation Serif", "fontStyle": "italic", "fontSize": 23, "color": "#000000"},
              "encoding": {"x": {"datum": 3.75, "type": "quantitative"}, "y": {"datum": -4.0, "type": "quantitative"}, "text": {"field": "label", "type": "nominal"}}
            },
            {
              "data": {"values": [{"label": "(b)"}]},
              "mark": {"type": "text", "font": "Liberation Serif", "fontSize": 45, "fontWeight": "bold", "color": "#000000", "align": "center", "baseline": "alphabetic"},
              "encoding": {"x": {"datum": -2.31, "type": "quantitative"}, "y": {"datum": 8.41, "type": "quantitative"}, "text": {"field": "label", "type": "nominal"}}
            }
          ],
          "resolve": {"scale": {"color": "shared"}}
        }
      ],
      "spacing": 80,
      "bounds": "flush",
      "resolve": {"scale": {"color": "independent"}, "legend": {"color": "independent"}}
    },
    {
      "vconcat": [
        {
          "width": 402,
          "height": 179,
          "view": {"stroke": null, "fill": "#ffffff"},
          "data": {"values": [{"label": ""}]},
          "mark": {"type": "text"},
          "encoding": {"text": {"field": "label", "type": "nominal"}}
        },
        {
          "width": 400,
          "height": 181,
          "layer": [
            {
              "data": {"name": "panelC"},
              "mark": {"type": "line", "strokeWidth": 1.8},
              "encoding": {
                "x": {"field": "time", "type": "quantitative", "scale": {"domain": [0, 150], "nice": false}, "axis": {"values": [0, 50, 100, 150], "format": "d", "title": "time", "labelFontSize": 15, "titleFontSize": 17, "labelColor": "#404040", "titleColor": "#404040", "labelPadding": 6, "titlePadding": 6}},
                "y": {"field": "value", "type": "quantitative", "scale": {"domain": [-4, 4], "nice": false}, "axis": {"values": [-4, -2, 0, 2, 4], "format": "d", "title": null, "labelFontSize": 15, "labelColor": "#404040", "labelPadding": 6}},
                "color": {"field": "series", "type": "nominal", "scale": {"domain": ["a", "b"], "range": ["#0072bd", "#d95319"]},
                  "legend": {"title": null, "orient": "none", "legendX": 341, "legendY": 142, "direction": "vertical", "symbolType": "stroke", "symbolSize": 280, "symbolStrokeWidth": 2, "labelFontSize": 14, "labelFont": "Liberation Sans", "labelColor": "#262626", "rowPadding": 3, "padding": 3, "strokeColor": "#bdbdbd", "fillColor": "#ffffff", "labelOffset": 2}}
              }
            },
            {
              "data": {"values": [{"label": "(c)"}]},
              "mark": {"type": "text", "font": "Liberation Serif", "fontSize": 45, "fontWeight": "bold", "color": "#000000", "align": "center", "baseline": "alphabetic"},
              "encoding": {"x": {"datum": 1.3, "type": "quantitative"}, "y": {"datum": 4.88, "type": "quantitative"}, "text": {"field": "label", "type": "nominal"}}
            }
          ]
        }
      ],
      "spacing": 0,
      "bounds": "flush",
      "resolve": {"scale": {"color": "independent"}, "legend": {"color": "independent"}}
    }
  ],
  "spacing": -14,
  "resolve": {"scale": {"color": "independent"}, "legend": {"color": "independent"}}
}
